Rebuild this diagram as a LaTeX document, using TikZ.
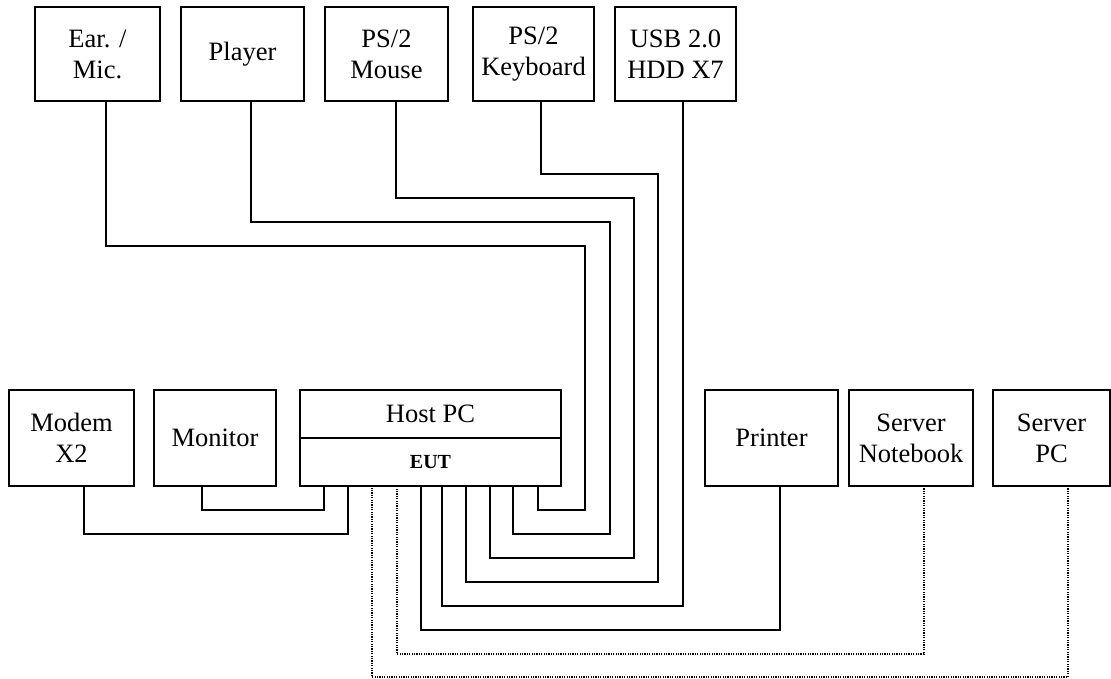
\documentclass[tikz,border=0pt]{standalone}
\usepackage{fontspec}
\setmainfont{Liberation Serif}
\begin{document}
\begin{tikzpicture}[x=1pt,y=-1pt,
  box/.style={draw,line width=1.3pt,inner sep=0pt,outer sep=0pt,align=center,
    minimum height=#1, font=\fontsize{26.5}{31}\selectfont},
  box/.default=94,
  wire/.style={line width=1.3pt},
  dotwire/.style={line width=1.3pt,dash pattern=on 1.2pt off 1.2pt}]
\useasboundingbox (0,0) rectangle (1111,679);
% top devices
\node[box,minimum width=125] (ear) at (97.5,54) {Ear. /\\Mic.};
\node[box,minimum width=123] (player) at (242.5,54) {Player};
\node[box,minimum width=123] (mouse) at (386.5,54) {PS/2\\Mouse};
\node[box,minimum width=121] (kbd) at (533.5,54) {PS/2\\Keyboard};
\node[box,minimum width=121] (usb) at (675.5,54) {USB 2.0\\HDD X7};
% bottom devices
\node[box=96,minimum width=125] (modem) at (71.5,438) {Modem\\X2};
\node[box=96,minimum width=122] (monitor) at (215,438) {Monitor};
\node[box=96,minimum width=261] (host) at (430.5,438) {};
\draw[wire] (host.west) -- (host.east);
\node[font=\fontsize{26.5}{31}\selectfont] (hostlbl) at (430.5,414) {Host PC};
\node[font=\fontsize{20}{24}\selectfont\bfseries] (eut) at (430.5,462) {EUT};
\node[box=96,minimum width=133] (printer) at (771.5,438) {Printer};
\node[box=96,minimum width=124] (notebook) at (911,438) {Server\\Notebook};
\node[box=96,minimum width=117] (spc) at (1051.5,438) {Server\\PC};
% connectors
\draw[wire] (ear.south -| 106,0) |- (585,246) |- (538,510) -- (host.south -| 538,0);
\draw[wire] (player.south -| 251,0) |- (610,222) |- (513,534) -- (host.south -| 513,0);
\draw[wire] (mouse.south -| 396,0) |- (634,198) |- (490,558) -- (host.south -| 490,0);
\draw[wire] (kbd.south -| 541,0) |- (658,174) |- (466,582) -- (host.south -| 466,0);
\draw[wire] (usb.south -| 683,0) |- (442,606) -- (host.south -| 442,0);
\draw[wire] (printer.south -| 780,0) |- (421,630) -- (host.south -| 421,0);
\draw[dotwire] (notebook.south -| 924,0) |- (397,654) -- (host.south -| 397,0);
\draw[dotwire] (spc.south -| 1068,0) |- (372,677) -- (host.south -| 372,0);
\draw[wire] (monitor.south -| 202,0) |- (324,510) -- (host.south -| 324,0);
\draw[wire] (modem.south -| 84,0) |- (348,534) -- (host.south -| 348,0);
\end{tikzpicture}
\end{document}
